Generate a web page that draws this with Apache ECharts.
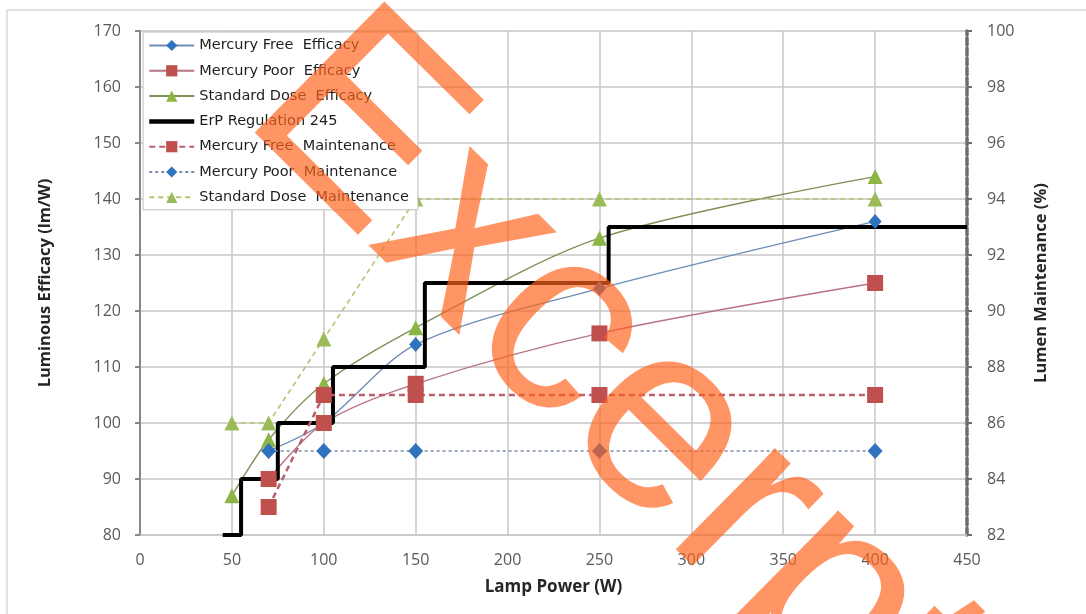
<!DOCTYPE html>
<html>
<head>
<meta charset="utf-8">
<script src="https://cdn.jsdelivr.net/npm/echarts@6/dist/echarts.min.js"></script>
<style>
html,body{margin:0;padding:0;background:#fff;}
#chart{width:1086px;height:614px;}
</style>
</head>
<body>
<div id="chart"></div>
<script>
// ---- data ----
var seriesNames = [
  'Mercury Free  Efficacy',
  'Mercury Poor  Efficacy',
  'Standard Dose  Efficacy',
  'ErP Regulation 245',
  'Mercury Free  Maintenance',
  'Mercury Poor  Maintenance',
  'Standard Dose  Maintenance'
];
var freeEffPower = [70, 100, 150, 250, 400];
var freeEff = [95, 100, 114, 124, 136];
var poorEffPower = [70, 100, 150, 250, 400];
var poorEff = [90, 100, 107, 116, 125];
var stdEffPower = [50, 70, 100, 150, 250, 400];
var stdEff = [87, 97, 107, 117, 133, 144];
var erpPower = [45, 55, 75, 105, 155, 255, 450];
var erpLevel = [80, 90, 100, 110, 125, 135, 135];
var freeMaintPower = [70, 100, 150, 250, 400];
var freeMaint = [83, 87, 87, 87, 87];
var poorMaintPower = [70, 100, 150, 250, 400];
var poorMaint = [85, 85, 85, 85, 85];
var stdMaintPower = [50, 70, 100, 150, 250, 400];
var stdMaint = [86, 86, 89, 94, 94, 94];
var xTicks = [0, 50, 100, 150, 200, 250, 300, 350, 400, 450];
var leftTicks = [80, 90, 100, 110, 120, 130, 140, 150, 160, 170];
var rightTicks = [82, 84, 86, 88, 90, 92, 94, 96, 98, 100];
var watermark = 'Excerpt';

function pts(xs, ys) { return xs.map(function (x, i) { return [x, ys[i]]; }); }

var FONT = '"Open Sans", "Liberation Sans", sans-serif';
var GRID = '#C6C6C6';

var chart = echarts.init(document.getElementById('chart'), null, {renderer: 'canvas'});
chart.setOption({
  animation: false,
  backgroundColor: '#ffffff',
  textStyle: {fontFamily: FONT},
  grid: {left: 140, right: 119, top: 31, bottom: 79, containLabel: false},
  legend: {
    orient: 'vertical', left: 143, top: 32,
    padding: [6, 9, 5, 4], itemGap: 10.3, itemWidth: 45, itemHeight: 14,
    backgroundColor: '#ffffff', borderColor: '#BFBFBF', borderWidth: 1,
    textStyle: {fontFamily: '"DejaVu Sans", sans-serif', fontSize: 14.5, color: '#1E1E1E'},
    data: [
      seriesNames[0], seriesNames[1], seriesNames[2],
      {name: seriesNames[3], itemStyle: {color: 'rgba(0,0,0,0)', borderWidth: 0},
       lineStyle: {color: '#000000', width: 4.5}},
      seriesNames[4], seriesNames[5], seriesNames[6]
    ]
  },
  xAxis: {
    type: 'value', min: xTicks[0], max: xTicks[xTicks.length - 1], interval: 50,
    name: 'Lamp Power (W)', nameLocation: 'middle', nameGap: 44,
    nameTextStyle: {fontFamily: FONT, fontSize: 17, fontWeight: 'bold', color: '#262626'},
    axisLine: {show: true, lineStyle: {color: GRID, width: 1.5}},
    axisTick: {show: false},
    axisLabel: {fontFamily: FONT, fontSize: 16, color: '#595959', margin: 17},
    splitLine: {show: true, lineStyle: {color: GRID, width: 1.5}}
  },
  yAxis: [{
    type: 'value', min: leftTicks[0], max: leftTicks[leftTicks.length - 1], interval: 10,
    position: 'left',
    name: 'Luminous Efficacy (lm/W)', nameLocation: 'middle', nameRotate: 90, nameGap: 86,
    nameTextStyle: {fontFamily: FONT, fontSize: 16.5, fontWeight: 'bold', color: '#262626'},
    axisLine: {show: true, lineStyle: {color: '#878787', width: 2}},
    axisTick: {show: true, length: 5, lineStyle: {color: '#878787', width: 2}},
    axisLabel: {fontFamily: FONT, fontSize: 16, color: '#595959', margin: 19},
    splitLine: {show: true, lineStyle: {color: GRID, width: 1.5}}
  }, {
    type: 'value', min: rightTicks[0], max: rightTicks[rightTicks.length - 1], interval: 2,
    position: 'right',
    name: 'Lumen Maintenance (%)', nameLocation: 'middle', nameRotate: 90, nameGap: 66,
    nameTextStyle: {fontFamily: FONT, fontSize: 16.5, fontWeight: 'bold', color: '#262626'},
    axisLine: {show: true, lineStyle: {color: '#6E6E6E', width: 3.5, type: [7, 3]}},
    axisTick: {show: true, length: 5, lineStyle: {color: '#6E6E6E', width: 2}},
    axisLabel: {fontFamily: FONT, fontSize: 16, color: '#595959', margin: 20},
    splitLine: {show: false}
  }],
  graphic: {elements: [
    {type: 'rect', z: -10, silent: true,
     shape: {x: 7, y: 10, width: 1100, height: 650},
     style: {fill: 'none', stroke: '#DADADA', lineWidth: 1.5}},
    {type: 'text', z: 100, silent: true, x: 614, y: 384, rotation: -0.78,
     style: {text: watermark, fontSize: 268, fontFamily: '"Liberation Sans", Arial, sans-serif',
       fill: 'rgba(255,98,28,0.68)', align: 'center', verticalAlign: 'middle'}}
  ]},
  series: [
    {name: seriesNames[0], type: 'line', yAxisIndex: 0, smooth: 0.3,
     data: pts(freeEffPower, freeEff),
     symbol: 'diamond', symbolSize: [13, 15],
     itemStyle: {color: '#2F72BE'},
     lineStyle: {color: '#6D8DB6', width: 1.4}},
    {name: seriesNames[1], type: 'line', yAxisIndex: 0, smooth: 0.3,
     data: pts(poorEffPower, poorEff),
     symbol: 'rect', symbolSize: 16,
     itemStyle: {color: '#C0504D'},
     lineStyle: {color: '#B87382', width: 1.4}},
    {name: seriesNames[2], type: 'line', yAxisIndex: 0, smooth: 0.3,
     data: pts(stdEffPower, stdEff),
     symbol: 'triangle', symbolSize: [15, 15],
     itemStyle: {color: '#8DB545'},
     lineStyle: {color: '#7F9158', width: 1.4}},
    {name: seriesNames[3], type: 'line', yAxisIndex: 0, step: 'end',
     data: pts(erpPower, erpLevel),
     symbol: 'none',
     itemStyle: {color: '#000000'},
     lineStyle: {color: '#000000', width: 4}},
    {name: seriesNames[4], type: 'line', yAxisIndex: 1,
     data: pts(freeMaintPower, freeMaint),
     symbol: 'rect', symbolSize: 16,
     itemStyle: {color: '#C0504D'},
     lineStyle: {color: '#BA5F6B', width: 2.5, type: [6, 4]}},
    {name: seriesNames[5], type: 'line', yAxisIndex: 1,
     data: pts(poorMaintPower, poorMaint),
     symbol: 'diamond', symbolSize: [15, 16],
     itemStyle: {color: '#2F72BE'},
     lineStyle: {color: '#7B8DA6', width: 1.6, type: [3, 3]}},
    {name: seriesNames[6], type: 'line', yAxisIndex: 1,
     data: pts(stdMaintPower, stdMaint),
     symbol: 'triangle', symbolSize: [15, 15],
     itemStyle: {color: '#9BBB59'},
     lineStyle: {color: '#B3C46C', width: 1.6, type: [5, 4]}}
  ]
});
</script>
</body>
</html>
